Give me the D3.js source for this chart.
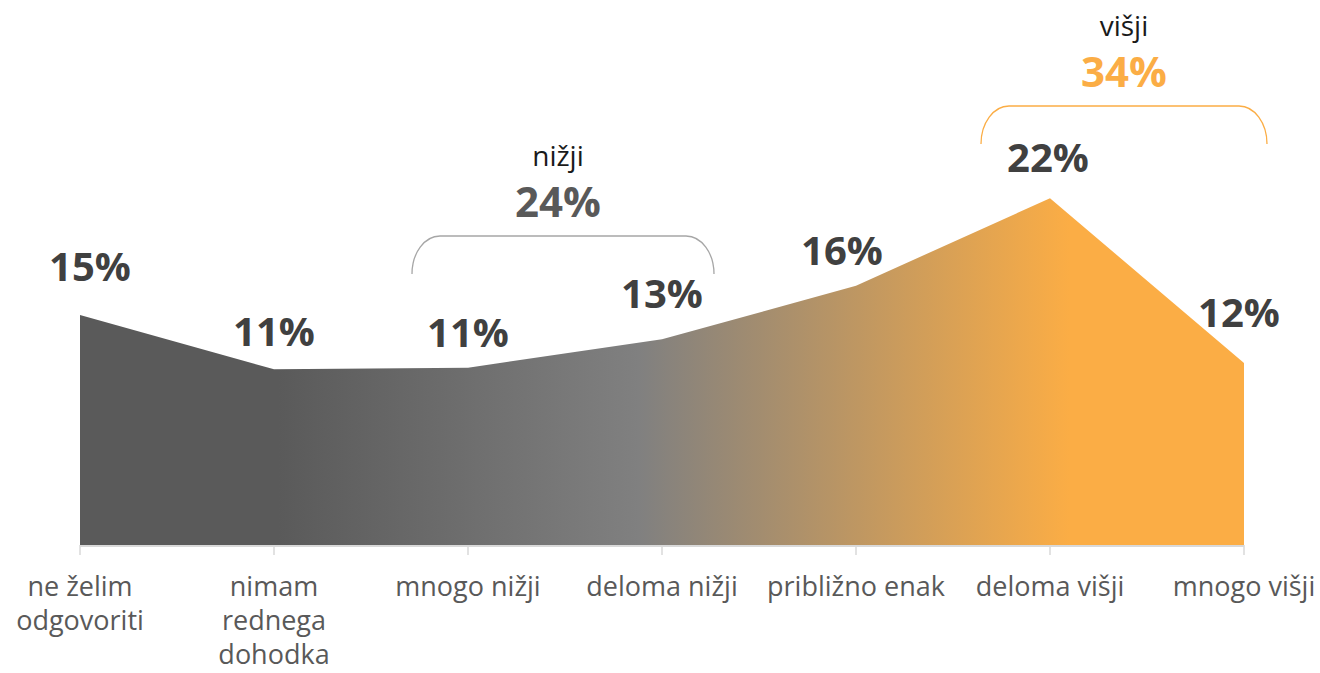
<!DOCTYPE html>
<html><head><meta charset="utf-8">
<script src="https://cdn.jsdelivr.net/npm/d3@7"></script>
<style>html,body{margin:0;padding:0;background:#fff;}svg{display:block;}</style>
</head><body>
<svg id="c" width="1320" height="673"></svg>
<script>
// ---- data ----
const categories = ["ne želim odgovoriti", "nimam rednega dohodka", "mnogo nižji", "deloma nižji", "približno enak", "deloma višji", "mnogo višji"];
const categoryLines = [["ne želim", "odgovoriti"], ["nimam", "rednega", "dohodka"], ["mnogo nižji"], ["deloma nižji"], ["približno enak"], ["deloma višji"], ["mnogo višji"]];
const values = [14.6, 11.15, 11.25, 13.05, 16.45, 22.0, 11.55];
const groupNames = ["nižji", "višji"];
const groupMembers = [[2, 3], [5, 6]];

// ---- layout (not data) ----
const labelNudge = [[10, -34], [0, -23], [0, -21], [0, -31], [-14, -21], [-2, -26], [-5, -36]];
const groupColors = ["#a6a6a6", "#fbad45"];
const groupValueColors = ["#595959", "#fbad45"];
const bracketPad = [[-56, 52], [-69, 23]];
const bracketTop = [236, 106];
const groupTextNudge = [-5, 0];

const svg = d3.select("#c");
const x = d3.scalePoint().domain(categories).range([80, 1244]);
const y = d3.scaleLinear().domain([0, 25]).range([545, 151]);

// gradient
const defs = svg.append("defs");
const grad = defs.append("linearGradient").attr("id", "g")
  .attr("gradientUnits", "userSpaceOnUse")
  .attr("x1", x(categories[0])).attr("x2", x(categories[6])).attr("y1", 0).attr("y2", 0);
[[0, "#5a5a5a"], [0.17, "#5a5a5a"], [0.48, "#808080"], [0.85, "#fbad45"], [1, "#fbad45"]]
  .forEach(([o, c]) => grad.append("stop").attr("offset", o).attr("stop-color", c));

// axis line + ticks
svg.append("line").attr("x1", x(categories[0])).attr("x2", x(categories[6]))
  .attr("y1", y(0) + 1).attr("y2", y(0) + 1).attr("stroke", "#d9d9d9").attr("stroke-width", 2);
svg.selectAll(".tick").data(categories).join("line")
  .attr("x1", d => x(d)).attr("x2", d => x(d))
  .attr("y1", y(0)).attr("y2", y(0) + 10).attr("stroke", "#d9d9d9").attr("stroke-width", 1.5);

// area
const area = d3.area().x((d, i) => x(categories[i])).y0(y(0)).y1(d => y(d));
svg.append("path").datum(values).attr("d", area).attr("fill", "url(#g)");

// value labels
svg.selectAll(".vl").data(values).join("text")
  .attr("x", (d, i) => x(categories[i]) + labelNudge[i][0])
  .attr("y", (d, i) => y(d) + labelNudge[i][1])
  .attr("text-anchor", "middle")
  .attr("font-family", "'Open Sans', sans-serif").attr("font-weight", 700)
  .attr("font-size", 40).attr("fill", "#404040")
  .text(d => Math.round(d) + "%");

// category labels
const cl = svg.selectAll(".cl").data(categoryLines).join("text")
  .attr("text-anchor", "middle")
  .attr("font-family", "'Open Sans', sans-serif")
  .attr("font-size", 27).attr("fill", "#595959");
cl.each(function (lines, i) {
  d3.select(this).selectAll("tspan").data(lines).join("tspan")
    .attr("x", x(categories[i])).attr("y", (l, j) => 596 + j * 34).text(l => l);
});

// group brackets
groupNames.forEach((name, g) => {
  const m = groupMembers[g];
  const x0 = x(categories[m[0]]) + bracketPad[g][0];
  const x1 = x(categories[m[m.length - 1]]) + bracketPad[g][1];
  const yt = bracketTop[g], yb = yt + 38, rx = 28, ry = 38;
  svg.append("path")
    .attr("d", `M${x0},${yb} A${rx},${ry} 0 0 1 ${x0 + rx},${yt} L${x1 - rx},${yt} A${rx},${ry} 0 0 1 ${x1},${yb}`)
    .attr("fill", "none").attr("stroke", groupColors[g]).attr("stroke-width", 1.3);
  const cx = (x0 + x1) / 2 + groupTextNudge[g];
  const sum = d3.sum(m, i => values[i]);
  svg.append("text").attr("x", cx).attr("y", yt - 19).attr("text-anchor", "middle")
    .attr("font-family", "'Open Sans', sans-serif").attr("font-weight", 700)
    .attr("font-size", 42).attr("fill", groupValueColors[g]).text(Math.round(sum) + "%");
  svg.append("text").attr("x", cx).attr("y", yt - 70).attr("text-anchor", "middle")
    .attr("font-family", "'Open Sans', sans-serif")
    .attr("font-size", 28).attr("fill", "#1a1a1a").text(name);
});
</script>
</body></html>
